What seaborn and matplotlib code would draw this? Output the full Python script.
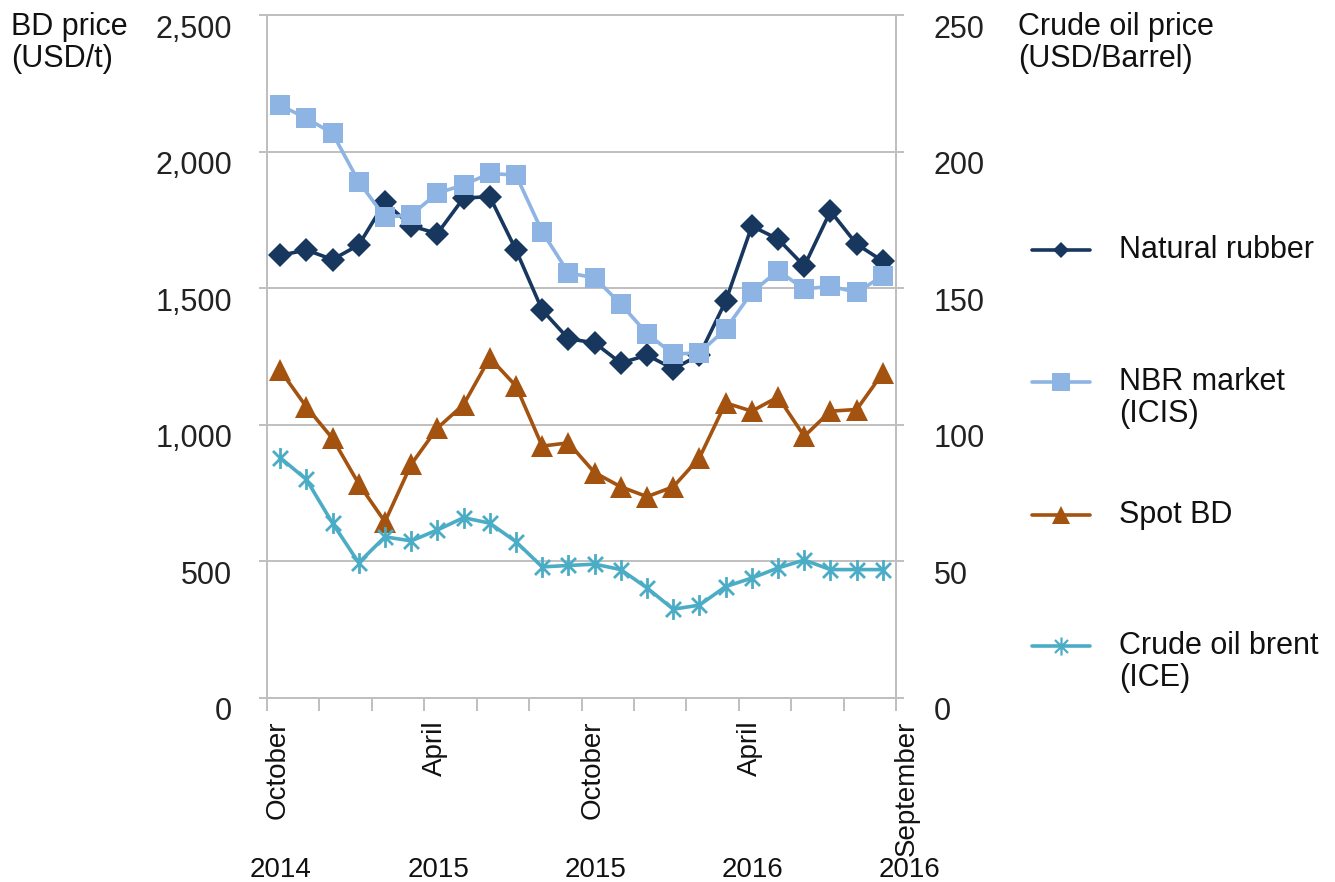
import numpy as np
import pandas as pd
import matplotlib
matplotlib.use("Agg")
import matplotlib.pyplot as plt
import seaborn as sns
from matplotlib.transforms import ScaledTranslation, blended_transform_factory
from matplotlib.path import Path
from matplotlib.lines import Line2D

# ---------------- data ----------------
months = ["Oct 2014", "Nov 2014", "Dec 2014", "Jan 2015", "Feb 2015", "Mar 2015",
          "Apr 2015", "May 2015", "Jun 2015", "Jul 2015", "Aug 2015", "Sep 2015",
          "Oct 2015", "Nov 2015", "Dec 2015", "Jan 2016", "Feb 2016", "Mar 2016",
          "Apr 2016", "May 2016", "Jun 2016", "Jul 2016", "Aug 2016", "Sep 2016"]
natural_rubber = [1620, 1640, 1605, 1658, 1815, 1728, 1700, 1830, 1835, 1640, 1420, 1315,
                  1300, 1226, 1255, 1205, 1255, 1452, 1727, 1680, 1581, 1782, 1661, 1599]
nbr_market = [2170, 2122, 2067, 1890, 1760, 1768, 1848, 1878, 1920, 1914, 1707, 1556,
              1538, 1442, 1334, 1258, 1264, 1350, 1485, 1564, 1497, 1507, 1485, 1545]
spot_bd = [1200, 1066, 950, 784, 645, 855, 988, 1074, 1245, 1142, 922, 934,
           825, 773, 737, 773, 879, 1080, 1050, 1102, 958, 1050, 1056, 1190]
crude_brent = [88.0, 80.0, 64.0, 49.5, 59.0, 57.5, 61.5, 66.0, 64.0, 57.2, 48.0, 48.5,
               49.0, 47.0, 40.3, 32.5, 34.0, 40.8, 43.9, 47.6, 50.5, 47.0, 47.0, 47.0]

month_tick_labels = ["October", "", "", "April", "", "", "October", "", "", "April", "", "", "September"]
year_tick_labels = ["2014", "", "", "2015", "", "", "2015", "", "", "2016", "", "", "2016"]
left_ticks = [0, 500, 1000, 1500, 2000, 2500]
right_ticks = [0, 50, 100, 150, 200, 250]
series_names = ["Natural rubber", "NBR market\n(ICIS)", "Spot BD", "Crude oil brent\n(ICE)"]

# ---------------- style ----------------
sns.set_theme(style="white")
plt.rcParams["font.family"] = ["Liberation Sans", "DejaVu Sans"]

C_NR = "#17375E"
C_NBR = "#8DB4E2"
C_BD = "#A3520F"
C_OIL = "#4BACC6"
GRID = "#BFBFBF"
FS = 22
FSX = 20

df = pd.DataFrame({"idx": np.arange(len(months)), "month": months,
                   "nr": natural_rubber, "nbr": nbr_market,
                   "bd": spot_bd, "oil": crude_brent})

W, H = 1335, 882
fig = plt.figure(figsize=(W / 100, H / 100), dpi=100)
ax = fig.add_axes([267 / W, 1 - 698 / H, (896 - 267) / W, 683 / H])
ax2 = ax.twinx()

star = Path([(0, -1), (0, 1), (-0.72, -0.72), (0.72, 0.72), (-0.72, 0.72), (0.72, -0.72)],
            [Path.MOVETO, Path.LINETO, Path.MOVETO, Path.LINETO, Path.MOVETO, Path.LINETO])

lw = 2.6
sns.lineplot(data=df, x="idx", y="nr", ax=ax, color=C_NR, lw=lw, marker="D", ms=12,
             mec=C_NR, mew=0, zorder=3, sort=False)
sns.lineplot(data=df, x="idx", y="nbr", ax=ax, color=C_NBR, lw=lw, marker="s", ms=15,
             mec=C_NBR, mew=0, zorder=4, sort=False)
sns.lineplot(data=df, x="idx", y="bd", ax=ax, color=C_BD, lw=lw, marker="^", ms=16,
             mec=C_BD, mew=0, zorder=3, sort=False)
sns.lineplot(data=df, x="idx", y="oil", ax=ax2, color=C_OIL, lw=lw, marker=star, ms=15,
             mec=C_OIL, mew=2, zorder=3, sort=False)

# ---------------- axes ----------------
n = len(months)
ax.set_xlim(-0.5, n - 0.5)
ax.set_ylim(0, 2500)
ax2.set_ylim(0, 250)
ax.set_xlabel("")
ax.set_ylabel("")
ax2.set_ylabel("")

xt = np.arange(-0.5, n, 2)
ax.set_xticks(xt)
ax.set_xticklabels(month_tick_labels, rotation=90, va="top", ha="center", fontsize=FSX, color="#111111")
ax.set_yticks(left_ticks)
ax.set_yticklabels([f"{v:,}" for v in left_ticks], fontsize=FS, color="#222222")
ax2.set_yticks(right_ticks)
ax2.set_yticklabels([str(v) for v in right_ticks], fontsize=FS, color="#222222")

ax.yaxis.grid(True, color=GRID, lw=1.4)
ax.xaxis.grid(False)
ax2.grid(False)
for a in (ax, ax2):
    for s in a.spines.values():
        s.set_color(GRID)
        s.set_linewidth(1.4)
ax.tick_params(axis="x", direction="out", length=9, width=1.4, color=GRID, pad=7, bottom=True)
ax.tick_params(axis="y", direction="out", length=6, width=1.4, color=GRID, pad=19, left=True)
ax2.tick_params(axis="y", direction="out", length=6, width=1.4, color=GRID, pad=21, right=True)

off_down = ScaledTranslation(0, -11 / 100, fig.dpi_scale_trans)
for lab in ax.get_yticklabels() + ax2.get_yticklabels():
    lab.set_transform(lab.get_transform() + off_down)
off_right = ScaledTranslation(11 / 100, 0, fig.dpi_scale_trans)
for lab in ax.get_xticklabels():
    lab.set_transform(lab.get_transform() + off_right)

# years below month labels
btr = blended_transform_factory(ax.transData, ax.transAxes) + ScaledTranslation(14 / 100, 0, fig.dpi_scale_trans)
for xpos, yl in zip(xt, year_tick_labels):
    if yl:
        ax.text(xpos, -(877 - 698) / 683, yl, transform=btr, ha="center", va="baseline",
                fontsize=FSX, color="#111111")

# axis titles
fig.text(11 / W, 1 - 12 / H, "BD price\n(USD/t)", ha="left", va="top", fontsize=FS,
         linespacing=1.1, color="#111111")
fig.text(1018 / W, 1 - 12 / H, "Crude oil price\n(USD/Barrel)", ha="left", va="top", fontsize=FS,
         linespacing=1.1, color="#111111")

# legend (manual, marker aligned with first text line)
leg_specs = [
    (C_NR, "D", 8, 0, 250),
    (C_NBR, "s", 13, 0, 382),
    (C_BD, "^", 13, 0, 515),
    (C_OIL, star, 13, 1.6, 646),
]
for (col, mk, ms, mew, ypix), name in zip(leg_specs, series_names):
    yf = 1 - ypix / H
    fig.add_artist(Line2D([1032 / W, 1090 / W], [yf, yf], transform=fig.transFigure,
                          color=col, lw=lw))
    fig.add_artist(Line2D([1061 / W], [yf], transform=fig.transFigure, color=col,
                          marker=mk, ms=ms, mec=col, mew=mew, ls="none"))
    for k, line in enumerate(name.split("\n")):
        fig.text(1119 / W, 1 - (ypix + k * 32) / H, line, ha="left", va="center",
                 fontsize=FS, color="#111111")

fig.savefig("out.png", dpi=100)
